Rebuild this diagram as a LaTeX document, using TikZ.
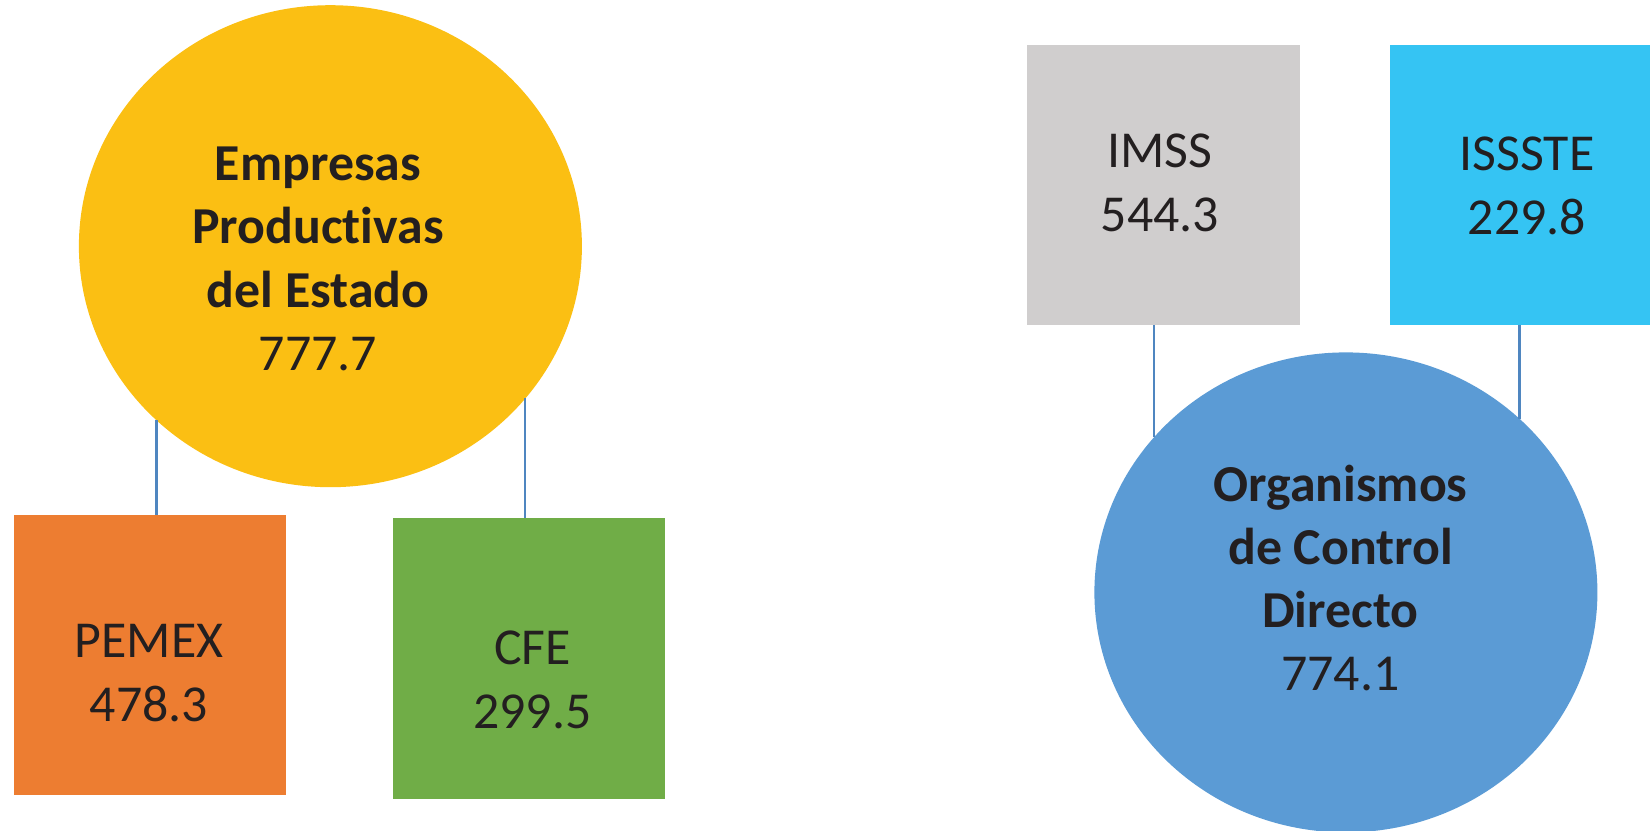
\documentclass[tikz,border=0pt]{standalone}
\usepackage{fontspec}
\setmainfont[Ligatures=NoCommon]{Carlito}
\usetikzlibrary{shapes.geometric}
\definecolor{cyel}{HTML}{FBBF13}
\definecolor{corg}{HTML}{ED7D31}
\definecolor{cgrn}{HTML}{70AD47}
\definecolor{cgry}{HTML}{D0CECE}
\definecolor{ccyn}{HTML}{35C4F3}
\definecolor{cblu}{HTML}{5B9BD5}
\definecolor{ctxt}{HTML}{231F20}
\definecolor{cline}{HTML}{4F86C0}
\tikzset{
  blob/.style={ellipse, draw=none, inner sep=0pt, outer sep=0pt, minimum width=10.06cm},
  sq/.style={rectangle, draw=none, inner sep=0pt, outer sep=0pt, minimum width=5.45cm, minimum height=5.6cm},
  lbl/.style={align=center, inner sep=0pt, text=ctxt, font=\fontsize{29.5}{36}\selectfont},
  conn/.style={draw=cline, line width=1.3pt}
}
\begin{document}
\begin{tikzpicture}
\useasboundingbox (0,0) rectangle (33,-16.6);
\begin{scope}
\clip (0,0) rectangle (33,-16.6);
% shapes
\node[blob, fill=cyel, minimum height=9.64cm] (ep) at (6.608,-4.924) {};
\node[sq, fill=corg] (pemex) at (2.999,-13.091) {};
\node[sq, fill=cgrn, minimum height=5.62cm] (cfe) at (10.576,-13.164) {};
\node[sq, fill=cgry] (imss) at (23.266,-3.704) {};
\node[sq, fill=ccyn] (issste) at (30.526,-3.704) {};
\node[blob, fill=cblu, minimum height=9.6cm] (ocd) at (26.918,-11.848) {};
% connectors
\draw[conn] (ep.-135) -- (ep.-135 |- pemex.north);
\draw[conn] (ep.-38.5) -- (ep.-38.5 |- cfe.north);
\draw[conn] (ocd.141.7) -- (ocd.141.7 |- imss.south);
\draw[conn] (ocd.45.3) -- (ocd.45.3 |- issste.south);
% texts
\node[lbl] (eptext) at (6.36,-5.18) {\textbf{Empresas}\\\textbf{Productivas}\\\textbf{del Estado}\\777.7};
\node[lbl] (pemextext) at (2.98,-13.46) {PEMEX\\478.3};
\node[lbl] (cfetext) at (10.65,-13.6) {CFE\\299.5};
\node[lbl] (imsstext) at (23.2,-3.66) {IMSS\\544.3};
\node[lbl] (issstetext) at (30.54,-3.72) {ISSSTE\\229.8};
\node[lbl] (ocdtext) at (26.81,-11.56) {\textbf{Organismos}\\\textbf{de Control}\\\textbf{Directo}\\774.1};
\end{scope}
\end{tikzpicture}
\end{document}
